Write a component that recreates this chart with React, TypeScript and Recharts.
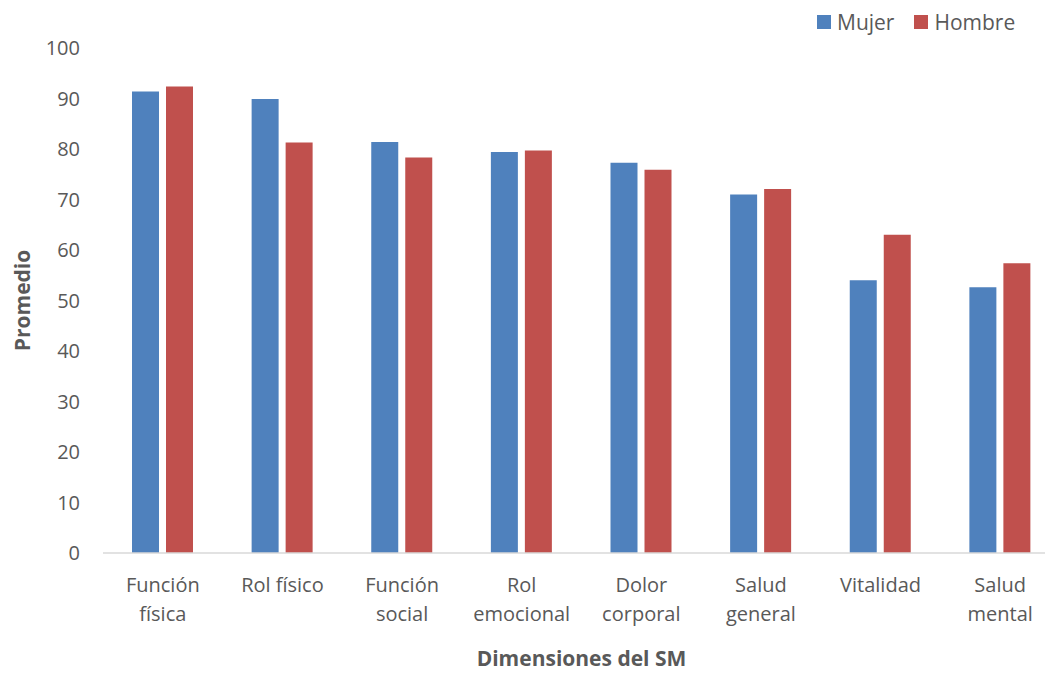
import React from 'react'
import { BarChart, Bar, XAxis, YAxis, Label } from 'recharts'

const CATEGORIES = [
  'Función física', 'Rol físico', 'Función social', 'Rol emocional',
  'Dolor corporal', 'Salud general', 'Vitalidad', 'Salud mental',
]
const TICK_LINES: Record<string, string[]> = {
  'Función física': ['Función', 'física'],
  'Rol físico': ['Rol físico'],
  'Función social': ['Función', 'social'],
  'Rol emocional': ['Rol', 'emocional'],
  'Dolor corporal': ['Dolor', 'corporal'],
  'Salud general': ['Salud', 'general'],
  'Vitalidad': ['Vitalidad'],
  'Salud mental': ['Salud', 'mental'],
}
const MUJER = [91.4, 89.9, 81.4, 79.4, 77.3, 71.0, 54.0, 52.6]
const HOMBRE = [92.4, 81.3, 78.3, 79.7, 75.9, 72.1, 63.0, 57.4]
const Y_TICKS = [0, 10, 20, 30, 40, 50, 60, 70, 80, 90, 100]

const BLUE = '#4F81BD'
const RED = '#C0504D'
const TEXT = '#595959'
const FONT = '"Open Sans", sans-serif'

const data = CATEGORIES.map((name, i) => ({ name, Mujer: MUJER[i], Hombre: HOMBRE[i] }))

function CategoryTick({ x, y, payload }: any) {
  const lines = TICK_LINES[payload.value] ?? [payload.value]
  return (
    <text x={x} y={y} textAnchor="middle" fill={TEXT} fontSize={20} fontFamily={FONT}>
      {lines.map((l, i) => (
        <tspan key={i} x={x} dy={i === 0 ? 31 : 29}>{l}</tspan>
      ))}
    </text>
  )
}

export default function App() {
  return (
    <div style={{ position: 'fixed', left: 0, top: 0, width: 1045, height: 673, overflow: 'hidden', background: '#fff' }}>
      <BarChart width={1060} height={673} data={data} barGap={7} barSize={27}
        margin={{ top: 48, right: 0, left: 0, bottom: 0 }}>
        <XAxis dataKey="name" height={120} interval={0} tickLine={false}
          axisLine={{ stroke: '#D9D9D9', strokeWidth: 1.5 }} tick={<CategoryTick />}>
          <Label value="Dimensiones del SM" position="insideBottom" offset={7}
            fill={TEXT} fontSize={21} fontWeight="bold" fontFamily={FONT} />
        </XAxis>
        <YAxis width={103} domain={[0, 100]} ticks={Y_TICKS} interval={0}
          axisLine={false} tickLine={false} tickSize={0} tickMargin={23}
          tick={{ fill: TEXT, fontSize: 20, fontFamily: FONT }}>
          <Label content={({ viewBox }: any) => (
            <text x={22} y={viewBox.y + viewBox.height / 2} textAnchor="middle" dominantBaseline="central"
              transform={`rotate(-90 22 ${viewBox.y + viewBox.height / 2})`}
              fill={TEXT} fontSize={21} fontWeight="bold" fontFamily={FONT}>Promedio</text>
          )} />
        </YAxis>
        <Bar dataKey="Mujer" fill={BLUE} isAnimationActive={false} />
        <Bar dataKey="Hombre" fill={RED} isAnimationActive={false} />
      </BarChart>
      <div style={{ position: 'absolute', top: 9, left: 817, display: 'flex', alignItems: 'center',
        fontFamily: FONT, fontSize: 21, color: TEXT, lineHeight: '26px' }}>
        <span style={{ width: 14, height: 14, background: BLUE, display: 'inline-block', marginRight: 6 }} />
        <span style={{ marginRight: 20 }}>Mujer</span>
        <span style={{ width: 14, height: 14, background: RED, display: 'inline-block', marginRight: 6 }} />
        <span>Hombre</span>
      </div>
    </div>
  )
}
